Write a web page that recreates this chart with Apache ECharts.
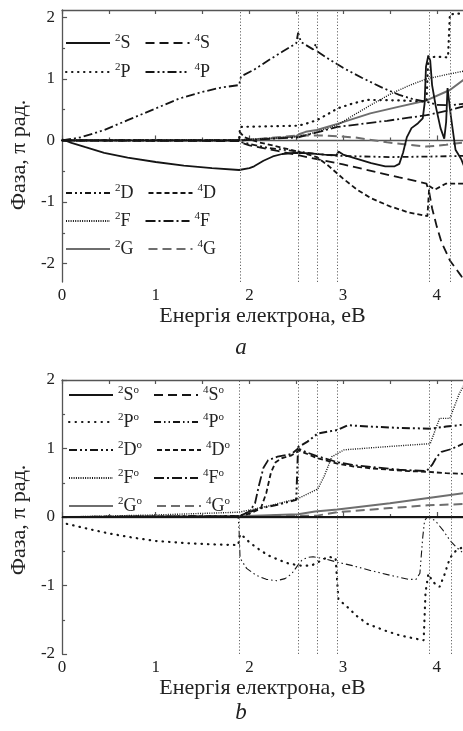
<!DOCTYPE html>
<html><head><meta charset="utf-8">
<script src="https://cdn.jsdelivr.net/npm/echarts@6/dist/echarts.min.js"></script>
<style>html,body{margin:0;padding:0;background:#fff}#c{width:463px;height:731px}</style>
</head><body><div id="c"></div>
<script>
// ---------- tick values ----------
const xMajor = [0, 1, 2, 3, 4];
const xMinor = [0.5, 1.5, 2.5, 3.5];
const yMajor = [-2, -1, 0, 1, 2];
const yMinor = [-1.5, -0.5, 0.5, 1.5];
const thresholdsA = [1.9, 2.52, 2.72, 2.94, 3.92, 4.14];
const thresholdsB = [1.89, 2.52, 2.72, 2.94, 3.92, 4.15];

// ---------- panel a data [energy eV, phase pi rad] ----------
const a2S = [[0,0.02],[0.1,-0.04],[0.25,-0.11],[0.45,-0.2],[0.7,-0.28],[1.0,-0.35],[1.3,-0.41],[1.6,-0.45],[1.89,-0.48],[1.91,-0.45],[2.0,-0.45],[2.05,-0.42],[2.15,-0.33],[2.25,-0.26],[2.35,-0.22],[2.5,-0.2],[2.65,-0.21],[2.8,-0.23],[2.93,-0.24],[2.95,-0.18],[3.0,-0.23],[3.15,-0.3],[3.3,-0.37],[3.45,-0.42],[3.55,-0.42],[3.6,-0.38],[3.64,-0.2],[3.68,0.05],[3.73,0.2],[3.8,0.28],[3.85,0.36],[3.87,0.6],[3.885,1.2],[3.91,1.38],[3.93,1.3],[3.95,0.9],[3.99,0.55],[4.04,0.2],[4.08,0.03],[4.1,0.3],[4.115,0.85],[4.13,0.86],[4.15,0.4],[4.2,-0.15],[4.26,-0.3],[4.3,-0.45]];
const a4S = [[0,0],[1.89,-0.01],[1.92,-0.04],[2.0,-0.08],[2.3,-0.17],[2.52,-0.24],[2.77,-0.32],[3.0,-0.39],[3.2,-0.46],[3.4,-0.53],[3.6,-0.6],[3.89,-0.7],[3.92,-0.85],[3.95,-1.1],[4.0,-1.4],[4.05,-1.65],[4.14,-1.95],[4.26,-2.2],[4.3,-2.3]];
const a2P = [[0,0],[1.89,0],[1.9,0.22],[2.2,0.23],[2.52,0.24],[2.6,0.27],[2.72,0.33],[2.85,0.44],[2.94,0.52],[3.1,0.6],[3.26,0.66],[3.6,0.65],[3.89,0.63],[3.91,1.35],[4.0,1.36],[4.12,1.35],[4.14,2.05],[4.3,2.07]];
const a4P = [[0,0],[0.2,0.05],[0.45,0.17],[0.7,0.33],[1.0,0.52],[1.25,0.68],[1.5,0.79],[1.7,0.86],[1.89,0.9],[1.91,1.04],[2.05,1.15],[2.2,1.3],[2.35,1.44],[2.5,1.58],[2.52,1.75],[2.55,1.6],[2.68,1.48],[2.71,1.57],[2.73,1.44],[2.85,1.32],[3.0,1.18],[3.2,1.02],[3.4,0.87],[3.6,0.74],[3.75,0.67],[3.89,0.63],[4.0,0.58],[4.15,0.57],[4.3,0.6]];
const a2D = [[0,0],[1.89,0],[1.92,-0.03],[2.2,-0.12],[2.52,-0.18],[2.72,-0.22],[2.94,-0.25],[3.5,-0.27],[4.0,-0.26],[4.3,-0.25]];
const a4D = [[0,0],[1.89,0],[1.9,0.13],[1.95,0.05],[2.1,-0.03],[2.3,-0.1],[2.52,-0.18],[2.72,-0.27],[2.85,-0.42],[3.0,-0.62],[3.15,-0.8],[3.3,-0.94],[3.5,-1.07],[3.7,-1.17],[3.9,-1.23],[3.92,-0.74],[3.98,-0.8],[4.05,-0.74],[4.1,-0.7],[4.3,-0.7]];
const a2F = [[0,0],[1.89,0.01],[1.9,0.03],[2.52,0.06],[2.72,0.14],[2.94,0.25],[3.1,0.4],[3.3,0.58],[3.5,0.75],[3.7,0.89],[3.89,1.0],[4.1,1.07],[4.3,1.13]];
const a4F = [[0,0],[1.89,0],[1.9,0.02],[2.52,0.05],[2.72,0.13],[2.94,0.22],[3.2,0.27],[3.47,0.32],[3.7,0.37],[3.89,0.41],[4.1,0.48],[4.3,0.56]];
const a2G = [[0,0],[1.89,0],[1.9,0.03],[2.3,0.04],[2.5,0.07],[2.53,0.1],[2.6,0.14],[2.72,0.17],[2.94,0.27],[3.29,0.44],[3.6,0.55],[3.89,0.65],[4.14,0.82],[4.3,1.0]];
const a4G = [[0,0],[1.89,0],[1.9,0.03],[2.52,0.08],[2.8,0.08],[3.12,0.05],[3.47,-0.03],[3.89,-0.1],[4.1,-0.07],[4.3,-0.03]];

// ---------- panel b data ----------
const b2S = [[0,0],[4.3,0]];
const b4S = [[0,0],[4.3,0]];
const b2P = [[0.05,-0.1],[0.3,-0.18],[0.5,-0.24],[0.75,-0.3],[1.0,-0.35],[1.3,-0.38],[1.6,-0.4],[1.88,-0.41],[1.9,-0.25],[1.95,-0.3],[2.0,-0.37],[2.1,-0.47],[2.2,-0.56],[2.32,-0.63],[2.42,-0.68],[2.55,-0.71],[2.66,-0.71],[2.76,-0.64],[2.84,-0.58],[2.92,-0.6],[2.95,-1.2],[3.05,-1.32],[3.15,-1.45],[3.26,-1.56],[3.45,-1.66],[3.61,-1.73],[3.75,-1.77],[3.86,-1.8],[3.88,-1.1],[3.91,-0.83],[3.96,-0.95],[4.03,-1.02],[4.08,-0.85],[4.14,-0.6],[4.2,-0.5],[4.3,-0.42]];
const b4P = [[0,0],[1.88,0],[1.89,-0.2],[1.9,-0.6],[1.97,-0.75],[2.07,-0.85],[2.18,-0.91],[2.29,-0.93],[2.38,-0.9],[2.45,-0.83],[2.52,-0.7],[2.56,-0.63],[2.62,-0.59],[2.68,-0.58],[2.8,-0.61],[2.94,-0.66],[3.1,-0.71],[3.29,-0.78],[3.5,-0.85],[3.7,-0.91],[3.78,-0.91],[3.82,-0.82],[3.85,-0.3],[3.87,-0.05],[3.9,0.0],[3.95,-0.02],[4.0,-0.08],[4.07,-0.2],[4.14,-0.34],[4.2,-0.43],[4.3,-0.55]];
const b2D = [[0,0],[1.89,0.01],[1.95,0.05],[2.1,0.12],[2.3,0.18],[2.5,0.25],[2.52,1.02],[2.62,1.1],[2.73,1.22],[2.85,1.25],[2.94,1.27],[3.05,1.34],[3.3,1.32],[3.6,1.3],[3.93,1.29],[4.1,1.32],[4.3,1.35]];
const b4D = [[0,0],[1.89,0.01],[2.0,0.05],[2.12,0.12],[2.18,0.35],[2.23,0.65],[2.28,0.8],[2.35,0.86],[2.45,0.9],[2.53,0.97],[2.6,0.93],[2.72,0.86],[2.94,0.78],[3.1,0.74],[3.3,0.71],[3.5,0.69],[3.7,0.67],[3.9,0.66],[4.1,0.64],[4.3,0.63]];
const b2F = [[0,0],[1.0,0.03],[1.89,0.07],[2.2,0.16],[2.52,0.27],[2.73,0.41],[2.8,0.6],[2.88,0.88],[3.01,0.98],[3.3,1.01],[3.6,1.04],[3.93,1.07],[4.03,1.44],[4.14,1.44],[4.24,1.8],[4.3,1.95]];
const b4F = [[0,0],[1.89,0.01],[2.0,0.08],[2.06,0.2],[2.1,0.45],[2.15,0.72],[2.2,0.83],[2.3,0.88],[2.45,0.92],[2.52,1.0],[2.6,0.95],[2.72,0.89],[2.94,0.8],[3.1,0.76],[3.3,0.73],[3.6,0.69],[3.89,0.67],[3.95,0.76],[4.0,0.88],[4.05,0.95],[4.15,0.99],[4.3,1.08]];
const b2G = [[0,0],[1.9,0.01],[2.52,0.04],[2.7,0.08],[2.94,0.11],[3.5,0.2],[3.93,0.28],[4.3,0.35]];
const b4G = [[0,0],[2.72,0.02],[2.94,0.07],[3.5,0.13],[3.9,0.17],[4.3,0.19]];

// ---------- styling ----------
const BLK = '#151515', GRY = '#6e6e6e', AX = '#555';
const FONT = '"Liberation Serif", "DejaVu Serif", serif';
const styleA = {
  '2S': {color: BLK, width: 1.8, type: 'solid'},
  '4S': {color: BLK, width: 1.8, type: [9, 5]},
  '2P': {color: BLK, width: 2.2, type: [0.5, 5.5], cap: 'round'},
  '4P': {color: BLK, width: 1.8, type: [9, 3, 2, 3, 2, 3]},
  '2D': {color: BLK, width: 1.8, type: [6, 3, 2, 3, 2, 3]},
  '4D': {color: BLK, width: 1.8, type: [5, 3]},
  '2F': {color: BLK, width: 1.4, type: [1, 1.3]},
  '4F': {color: BLK, width: 1.8, type: [10, 3, 2, 3]},
  '2G': {color: GRY, width: 2.0, type: 'solid'},
  '4G': {color: GRY, width: 2.0, type: [9, 5]}
};
const styleB = {
  '2S': {color: BLK, width: 1.8, type: 'solid'},
  '4S': {color: BLK, width: 1.8, type: [9, 5]},
  '2P': {color: BLK, width: 2.2, type: [0.5, 6], cap: 'round'},
  '4P': {color: BLK, width: 1.1, type: [7, 3, 1.5, 3, 1.5, 3]},
  '2D': {color: BLK, width: 2.0, type: [8, 3, 2, 3, 2, 3]},
  '4D': {color: BLK, width: 1.8, type: [5, 3]},
  '2F': {color: BLK, width: 1.4, type: [1, 1.3]},
  '4F': {color: BLK, width: 1.8, type: [10, 3, 2, 3]},
  '2G': {color: GRY, width: 2.0, type: 'solid'},
  '4G': {color: GRY, width: 2.0, type: [9, 5]}
};

const dataA = {'2S':a2S,'4S':a4S,'2P':a2P,'4P':a4P,'2D':a2D,'4D':a4D,'2F':a2F,'4F':a4F,'2G':a2G,'4G':a4G};
const dataB = {'2S':b2S,'4S':b4S,'2P':b2P,'4P':b4P,'2D':b2D,'4D':b4D,'2F':b2F,'4F':b4F,'2G':b2G,'4G':b4G};
const order = ['2G','4G','2F','4F','2D','4D','2P','4P','4S','2S'];

function mkSeries(key, data, st, xi, yi, suffix, thr) {
  const s = {
    name: key + suffix, type: 'line', xAxisIndex: xi, yAxisIndex: yi,
    data: data, symbol: 'none', showSymbol: false, clip: true,
    lineStyle: {color: st.color, width: st.width, type: st.type, cap: st.cap || 'butt'},
    itemStyle: {color: st.color}, emphasis: {disabled: true}, z: 3
  };
  if (thr) {
    s.markLine = {silent: true, symbol: 'none', animation: false, label: {show: false},
      lineStyle: {type: [1.2, 2], color: '#666', width: 1},
      emphasis: {disabled: true},
      data: thr.map(v => ({xAxis: v}))};
  }
  return s;
}

const series = [];
order.forEach((k, i) => series.push(mkSeries(k, dataA[k], styleA[k], 0, 0, '', i === 0 ? thresholdsA : null)));
order.forEach((k, i) => series.push(mkSeries(k, dataB[k], styleB[k], 3, 2, 'o', i === 0 ? thresholdsB : null)));

function xAxes(g, gap) {
  const base = {gridIndex: g, type: 'value', min: 0, max: 4.28, splitLine: {show: false}};
  return [
    Object.assign({}, base, {position: 'bottom',
      axisLine: {show: true, lineStyle: {color: AX, width: 1.3}},
      axisTick: {show: true, inside: true, length: 5, customValues: xMajor, lineStyle: {color: AX, width: 1.2}},
      axisLabel: {show: true, customValues: xMajor, margin: 5, fontFamily: FONT, fontSize: 17, color: '#222'},
      name: 'Енергія електрона, еВ', nameLocation: 'middle', nameGap: gap,
      nameTextStyle: {fontFamily: FONT, fontSize: 22, color: '#222'}}),
    Object.assign({}, base, {position: 'bottom', axisLine: {show: false},
      axisTick: {show: true, inside: true, length: 3, customValues: xMinor, lineStyle: {color: AX, width: 1.2}},
      axisLabel: {show: false}}),
    Object.assign({}, base, {position: 'top',
      axisLine: {show: true, lineStyle: {color: AX, width: 1.3}},
      axisTick: {show: true, inside: true, length: 4, customValues: xMajor.concat(xMinor), lineStyle: {color: AX, width: 1.2}},
      axisLabel: {show: false}})
  ];
}
function yAxes(g, mn, mx, pad) {
  const base = {gridIndex: g, type: 'value', min: mn, max: mx, position: 'left', splitLine: {show: false}};
  return [
    Object.assign({}, base, {
      axisLine: {show: true, lineStyle: {color: AX, width: 1.3}},
      axisTick: {show: true, inside: true, length: 5, customValues: yMajor, lineStyle: {color: AX, width: 1.2}},
      axisLabel: {show: true, customValues: yMajor, margin: 7, fontFamily: FONT, fontSize: 17, color: '#222'},
      name: 'Фаза, π рад.', nameLocation: 'middle', nameGap: 21,
      nameTextStyle: {fontFamily: FONT, fontSize: 22, color: '#222', padding: pad}}),
    Object.assign({}, base, {axisLine: {show: false},
      axisTick: {show: true, inside: true, length: 3, customValues: yMinor, lineStyle: {color: AX, width: 1.2}},
      axisLabel: {show: false}})
  ];
}

const rich = {
  s: {fontFamily: FONT, fontSize: 11, color: '#222', verticalAlign: 'top', lineHeight: 11},
  m: {fontFamily: FONT, fontSize: 18, color: '#222', lineHeight: 20}
};
function fmt(n) {
  return '{s|' + n[0] + '}{m|' + n[1] + '}' + (n.length > 2 ? '{s|o}' : '');
}
function legendRow(names, left, top) {
  return {show: true, data: names, left: left, top: top, orient: 'horizontal', padding: 0,
    itemWidth: 44, itemHeight: 14, itemGap: 14, selectedMode: false,
    itemStyle: {opacity: 0, borderWidth: 0},
    formatter: fmt, textStyle: {rich: rich, padding: [0, 0, 0, 0]}};
}
const rowsA = [['2S','4S'],['2P','4P'],['2D','4D'],['2F','4F'],['2G','4G']];
const topsA = [33, 62, 183, 211, 239];
const topsB = [385, 412, 440, 468, 496];
const legends = [];
rowsA.forEach((r, i) => legends.push(legendRow(r, 65, topsA[i])));
rowsA.forEach((r, i) => legends.push(legendRow(r.map(n => n + 'o'), 68, topsB[i])));

const chart = echarts.init(document.getElementById('c'), null, {renderer: 'canvas'});
chart.setOption({
  animation: false,
  backgroundColor: '#fff',
  grid: [
    {left: 57, right: 0, top: 10, height: 272},
    {left: 57, right: 0, top: 380, height: 274}
  ],
  xAxis: xAxes(0, 21).concat(xAxes(1, 23)),
  yAxis: yAxes(0, -2.3, 2.12, [0, 18, 0, 0]).concat(yAxes(1, -2, 2, [0, 6, 0, 0])),
  legend: legends,
  series: series,
  graphic: [
    {type: 'text', style: {x: 241, y: 348, text: 'a', textAlign: 'center', textVerticalAlign: 'middle', font: 'italic 23px ' + FONT, fill: '#222'}},
    {type: 'text', style: {x: 241, y: 713, text: 'b', textAlign: 'center', textVerticalAlign: 'middle', font: 'italic 23px ' + FONT, fill: '#222'}}
  ]
});
</script></body></html>
